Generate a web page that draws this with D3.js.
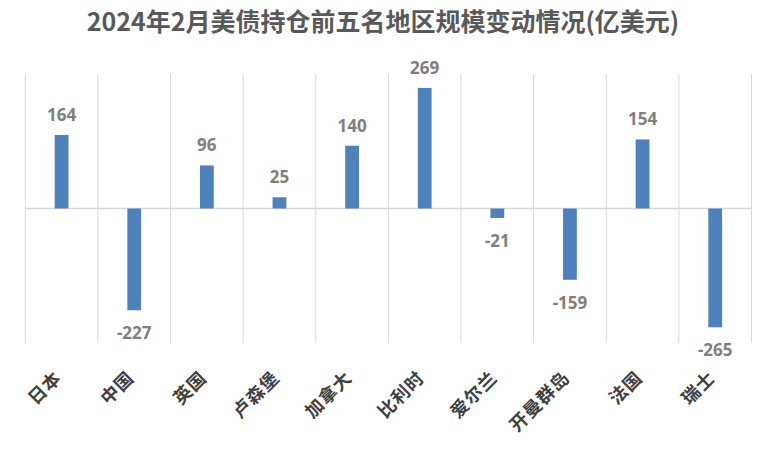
<!DOCTYPE html>
<html><head><meta charset="utf-8">
<script src="https://cdn.jsdelivr.net/npm/d3@7"></script>
<style>body{margin:0;background:#fff}</style>
</head><body>
<svg id="c" width="775" height="458"></svg>
<script>
const categories = ["日本","中国","英国","卢森堡","加拿大","比利时","爱尔兰","开曼群岛","法国","瑞士"];
const values = [164,-227,96,25,140,269,-21,-159,154,-265];
const titleText = "2024年2月美债持仓前五名地区规模变动情况(亿美元)";
const yDomain = [-300, 300];

(function(){
const svg = d3.select("#c");
const W = 775, H = 458;
const pLeft = 25.3, pRight = 751.5, pTop = 74, pBottom = 343;

const x = d3.scaleBand().domain(categories).range([pLeft, pRight]).paddingInner(0).paddingOuter(0);
const y = d3.scaleLinear().domain(yDomain).range([pBottom, pTop]);
const barW = x.bandwidth() * 0.19;

// title
svg.append("text").attr("x", 383).attr("y", 31).attr("text-anchor","middle")
  .attr("font-family","'Noto Sans CJK SC', sans-serif").attr("font-weight","bold")
  .attr("font-size", 25).attr("fill","#595959").text(titleText);

// vertical grid lines (category separators)
const seps = categories.map(c => x(c)).concat([x(categories[categories.length-1]) + x.bandwidth()]);
svg.append("g").selectAll("line").data(seps).join("line")
  .attr("x1", d => d).attr("x2", d => d).attr("y1", pTop).attr("y2", pBottom)
  .attr("stroke","#d9d9d9").attr("stroke-width",1);

// zero line
svg.append("line").attr("x1", pLeft).attr("x2", pRight).attr("y1", y(0)).attr("y2", y(0))
  .attr("stroke","#d9d9d9").attr("stroke-width",1.5);

// bars
svg.append("g").selectAll("rect").data(values).join("rect")
  .attr("x", (d,i) => x(categories[i]) + x.bandwidth()/2 - barW/2)
  .attr("width", barW)
  .attr("y", d => d >= 0 ? y(d) : y(0))
  .attr("height", d => Math.abs(y(d) - y(0)))
  .attr("fill","#4f81bd");

// value labels
svg.append("g").selectAll("text").data(values).join("text")
  .attr("x", (d,i) => x(categories[i]) + x.bandwidth()/2)
  .attr("y", d => d >= 0 ? y(d) - 14 : y(d) + 29)
  .attr("text-anchor","middle")
  .attr("font-family","'Noto Sans', sans-serif").attr("font-weight","bold")
  .attr("font-size", 17).attr("fill","#7f7f7f")
  .text(d => d);

// category labels
svg.append("g").selectAll("text").data(categories).join("text")
  .attr("transform", c => `translate(${x(c) + x.bandwidth()/2 + 1},${379}) rotate(-45)`)
  .attr("text-anchor","end")
  .attr("font-family","'Noto Sans CJK SC', sans-serif").attr("font-weight","bold")
  .attr("font-size", 18).attr("letter-spacing", 1).attr("fill","#404040")
  .text(c => c);
})();
</script>
</body></html>
